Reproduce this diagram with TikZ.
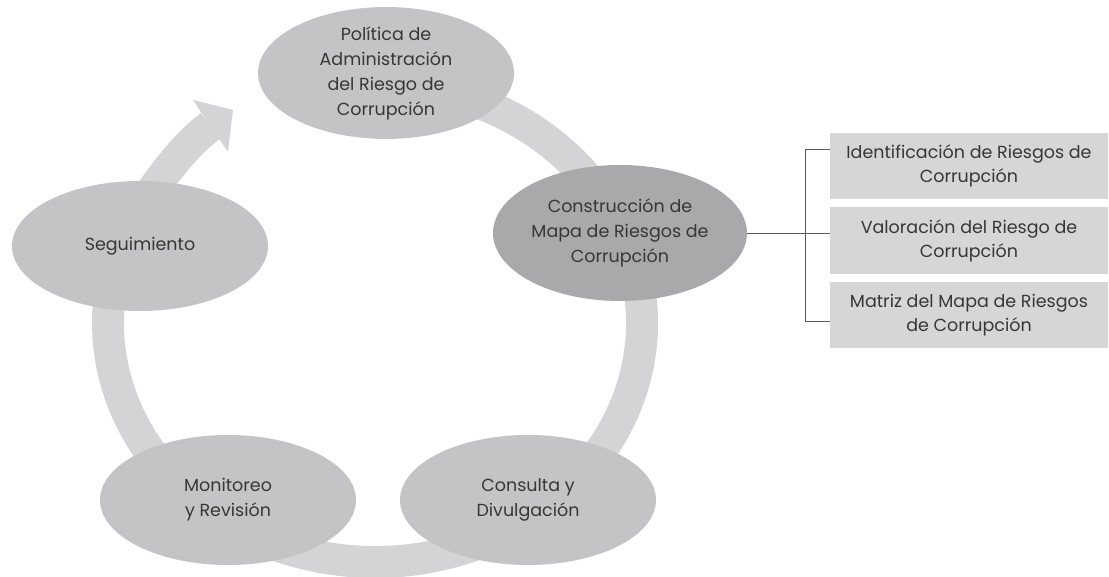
\documentclass[tikz,border=0pt]{standalone}
\usepackage{fontspec}
\setmainfont{Poppins}
\usetikzlibrary{shapes.geometric,calc}
\definecolor{ringc}{RGB}{212,212,214}
\definecolor{ellc}{RGB}{196,196,198}
\definecolor{elldark}{RGB}{169,169,171}
\definecolor{boxc}{RGB}{214,214,214}
\definecolor{txtc}{RGB}{55,55,55}
\definecolor{linec}{RGB}{90,90,90}
\begin{document}
\begin{tikzpicture}[x=1pt,y=1pt,
  stage/.style={ellipse, fill=ellc, minimum width=256pt, minimum height=130pt, inner sep=0pt,
    align=center, text=txtc, font=\fontsize{17.5}{25}\selectfont},
  darkstage/.style={stage, fill=elldark, minimum width=254pt, minimum height=136pt},
  subbox/.style={rectangle, fill=boxc, minimum width=278pt, minimum height=66pt, inner sep=0pt,
    align=center, text=txtc, font=\fontsize{17.5}{24}\selectfont},
  ringline/.style={draw=ringc, line width=32pt, line cap=butt},
  bracket/.style={draw=linec, line width=0.8pt}]
\useasboundingbox (0,0) rectangle (1109,577);
% ring with arrow
\coordinate (rc) at (375,254);
\coordinate (rs) at ($(rc)+(80:267 and 239)$);
\coordinate (ab) at (210.5,451);
\coordinate (at) at (233,467);
\coordinate (al) at (193,477);
\coordinate (ar) at (228,425);
\draw[ringline] (rs) arc[start angle=80, end angle=-210, x radius=267, y radius=239]
  .. controls +(0.542*30,0.840*30) and (186,433.6) .. (ab);
\fill[ringc] (al) -- (at) -- (ar) -- cycle;
% stages
\node[stage] (pol) at (386,504) {Política de\\Administración\\del Riesgo de\\Corrupción};
\node[darkstage] (con) at (620,344) {Construcción de\\Mapa de Riesgos de\\Corrupción};
\node[stage] (cons) at (528,77) {Consulta y\\Divulgación};
\node[stage] (mon) at (228,77) {Monitoreo\\y Revisión};
\node[stage] (seg) at (140,331) {Seguimiento};
% sub boxes
\node[subbox] (b1) at (969,411) {Identificación de Riesgos de\\Corrupción};
\node[subbox, minimum height=67pt] (b2) at (969,336.5) {Valoración del Riesgo de\\Corrupción};
\node[subbox] (b3) at (969,262) {Matriz del Mapa de Riesgos\\de Corrupción};
% bracket
\coordinate (bt) at (805,428);
\coordinate (bb) at (805,256);
\draw[bracket] (con.east) -- (con.east -| b2.west);
\draw[bracket] (bt -| b1.west) -- (bt) -- (bb) -- (bb -| b3.west);
\end{tikzpicture}
\end{document}
